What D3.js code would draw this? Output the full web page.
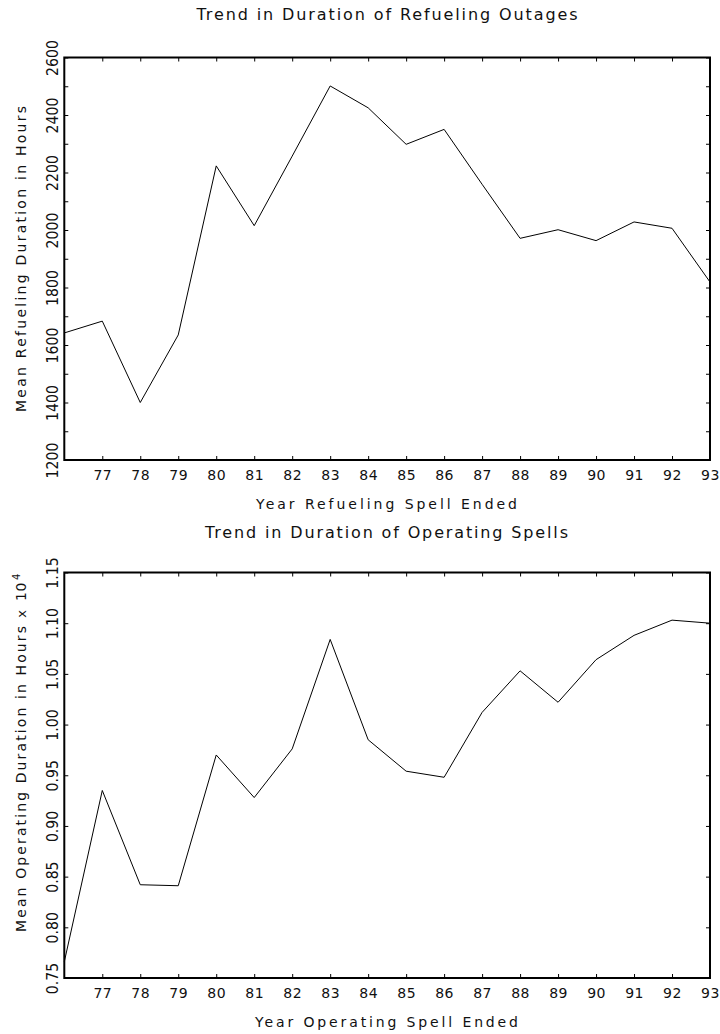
<!DOCTYPE html>
<html>
<head>
<meta charset="utf-8">
<script src="https://cdn.jsdelivr.net/npm/d3@7"></script>
<style>
  body { margin: 0; background: #fff; }
  text { font-family: "DejaVu Sans", sans-serif; fill: #111; }
</style>
</head>
<body>
<div id="chart"></div>
<script>
// values
var years = [76, 77, 78, 79, 80, 81, 82, 83, 84, 85, 86, 87, 88, 89, 90, 91, 92, 93];
var refuelHours = [1642, 1683, 1400, 1635, 2223, 2015, 2257, 2501, 2425, 2298, 2350, 2159, 1971, 2001, 1963, 2028, 2006, 1819];
var operatingHours = [0.766, 0.935, 0.842, 0.841, 0.970, 0.928, 0.976, 1.084, 0.985, 0.954, 0.948, 1.012, 1.053, 1.022, 1.064, 1.088, 1.103, 1.100];

var xTickLabels = [77, 78, 79, 80, 81, 82, 83, 84, 85, 86, 87, 88, 89, 90, 91, 92, 93];
var refuelTicks = [1200, 1400, 1600, 1800, 2000, 2200, 2400, 2600];
var refuelMinor = [1300, 1500, 1700, 1900, 2100, 2300, 2500];
var operatingTicks = [0.75, 0.80, 0.85, 0.90, 0.95, 1.00, 1.05, 1.10, 1.15];

var svgWidth = 720;
var svgHeight = 1034;

var svg = d3.select("#chart")
  .append("svg")
  .attr("width", svgWidth)
  .attr("height", svgHeight);

var left = 64.3, right = 710;

var xScale = d3.scaleLinear().domain([76, 93]).range([left, right]);

function drawPanel(cfg) {
  var yScale = d3.scaleLinear().domain(cfg.domain).range([cfg.bottom, cfg.top]);
  var g = svg.append("g");

  // title
  g.append("text")
    .attr("x", cfg.titleX)
    .attr("y", cfg.titleY)
    .attr("text-anchor", "middle")
    .attr("font-size", 16)
    .attr("textLength", cfg.titleLen)
    .attr("lengthAdjust", "spacing")
    .text(cfg.title);

  // bottom axis with labels
  var bottomAxis = d3.axisBottom(xScale)
    .tickValues(xTickLabels)
    .tickSizeInner(-4)
    .tickSizeOuter(0)
    .tickPadding(10)
    .tickFormat(d3.format("d"));

  var xAxis = g.append("g")
    .attr("transform", `translate(0, ${cfg.bottom})`)
    .call(bottomAxis);
  xAxis.select(".domain").remove();
  xAxis.selectAll("text")
    .attr("font-size", 14)
    .attr("letter-spacing", 0.5)
    .attr("font-family", null)
    .attr("dy", "0.71em");

  // top axis, ticks only
  var topAxis = d3.axisTop(xScale)
    .tickValues(xTickLabels.slice(0, -1))
    .tickSizeInner(-4)
    .tickSizeOuter(0)
    .tickFormat("");
  var xTop = g.append("g")
    .attr("transform", `translate(0, ${cfg.top})`)
    .call(topAxis);
  xTop.select(".domain").remove();

  // left axis
  var leftAxis = d3.axisLeft(yScale)
    .tickValues(cfg.ticks)
    .tickSizeInner(-4)
    .tickSizeOuter(0)
    .tickFormat(cfg.format);
  var yAxis = g.append("g")
    .attr("transform", `translate(${left}, 0)`)
    .call(leftAxis);
  yAxis.select(".domain").remove();
  yAxis.selectAll("text")
    .attr("x", null)
    .attr("dy", null)
    .attr("text-anchor", "middle")
    .attr("font-size", 16)
    .attr("font-family", null)
    .attr("transform", "translate(-6.3, 0) rotate(-90) scale(0.88, 1)");

  // right axis, ticks only
  var rightAxis = d3.axisRight(yScale)
    .tickValues(cfg.ticks.concat(cfg.minor))
    .tickSizeInner(-4)
    .tickSizeOuter(0)
    .tickFormat("");
  var yRight = g.append("g")
    .attr("transform", `translate(${right}, 0)`)
    .call(rightAxis);
  yRight.select(".domain").remove();

  if (cfg.minor.length) {
    var minorAxis = d3.axisLeft(yScale)
      .tickValues(cfg.minor)
      .tickSizeInner(-4)
      .tickSizeOuter(0)
      .tickFormat("");
    var yMinor = g.append("g")
      .attr("transform", `translate(${left}, 0)`)
      .call(minorAxis);
    yMinor.select(".domain").remove();
  }

  g.selectAll(".tick line").attr("stroke", "#000");

  // frame
  g.append("rect")
    .attr("x", left)
    .attr("y", cfg.top)
    .attr("width", right - left)
    .attr("height", cfg.bottom - cfg.top)
    .attr("fill", "none")
    .attr("stroke", "#000")
    .attr("stroke-width", 2);

  // data line
  var line = d3.line()
    .x((d, i) => xScale(years[i]))
    .y(d => yScale(d));

  g.append("path")
    .datum(cfg.values)
    .attr("d", line)
    .attr("fill", "none")
    .attr("stroke", "#000")
    .attr("stroke-width", 1);

  // x label
  g.append("text")
    .attr("x", 386.5)
    .attr("y", cfg.bottom + 49)
    .attr("text-anchor", "middle")
    .attr("font-size", 14)
    .attr("textLength", cfg.xLabelLen)
    .attr("lengthAdjust", "spacing")
    .text(cfg.xLabel);

  // y label
  g.append("text")
    .attr("transform", `translate(26, ${cfg.yLabelStart}) rotate(-90)`)
    .attr("text-anchor", "start")
    .attr("font-size", 14)
    .attr("textLength", 306)
    .attr("lengthAdjust", "spacing")
    .text(cfg.yLabel);

  return g;
}

drawPanel({
  top: 57.5,
  bottom: 460,
  domain: [1200, 2600],
  ticks: refuelTicks,
  minor: refuelMinor,
  format: d3.format("d"),
  values: refuelHours,
  title: "Trend in Duration of Refueling Outages",
  titleX: 387,
  titleY: 20,
  titleLen: 381,
  xLabel: "Year Refueling Spell Ended",
  xLabelLen: 261,
  yLabel: "Mean Refueling Duration in Hours",
  yLabelStart: 412
});

var bottomPanel = drawPanel({
  top: 572.5,
  bottom: 978,
  domain: [0.75, 1.15],
  ticks: operatingTicks,
  minor: [],
  format: d3.format(".2f"),
  values: operatingHours,
  title: "Trend in Duration of Operating Spells",
  titleX: 386.5,
  titleY: 538,
  titleLen: 363,
  xLabel: "Year Operating Spell Ended",
  xLabelLen: 263,
  yLabel: "Mean Operating Duration in Hours",
  yLabelStart: 932
});

// multiplier next to the lower y label
bottomPanel.append("text")
  .attr("transform", "translate(26, 614) rotate(-90)")
  .attr("text-anchor", "middle")
  .attr("font-size", 13)
  .text("x");

bottomPanel.append("text")
  .attr("transform", "translate(26, 601) rotate(-90)")
  .attr("text-anchor", "start")
  .attr("font-size", 14)
  .attr("letter-spacing", 0.5)
  .text("10");

bottomPanel.append("text")
  .attr("transform", "translate(20, 580) rotate(-90)")
  .attr("text-anchor", "start")
  .attr("font-size", 10)
  .text("4");
</script>
</body>
</html>
